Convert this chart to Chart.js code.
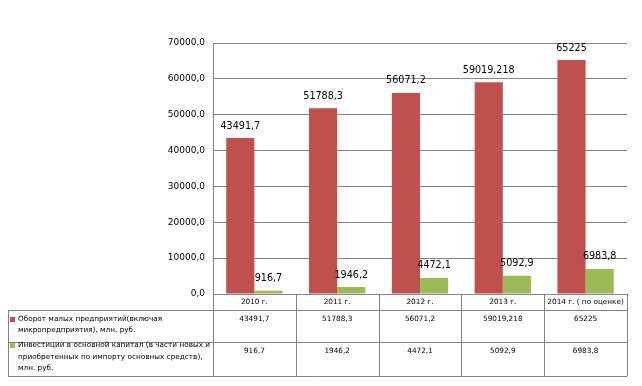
<!DOCTYPE html>
<html><head><meta charset="utf-8">
<script src="https://cdn.jsdelivr.net/npm/chart.js@4/dist/chart.umd.min.js"></script>
<style>html,body{margin:0;padding:0;background:#fff;}canvas{display:block;}</style>
</head><body>
<canvas id="c" width="642" height="386"></canvas>
<script>
const categories = ["2010 г.", "2011 г.", "2012 г.", "2013 г.", "2014 г. ( по оценке)"];
const turnover = [43491.7, 51788.3, 56071.2, 59019.218, 65225];
const investment = [916.7, 1946.2, 4472.1, 5092.9, 6983.8];
const turnoverName = ["Оборот малых предприятий(включая", "микропредприятия), млн. руб."];
const investmentName = ["Инвестиции в основной капитал (в части новых и", "приобретенных по импорту основных средств),", "млн. руб."];
const yMin = 0, yMax = 70000, yStep = 10000;

const RED = '#C0504D', GREEN = '#9BBB59', GRID = '#868686', LINE = '#808080';
const fmt = v => String(v).replace('.', ',');

const labelPlugin = {
  id: 'labels',
  afterDatasetsDraw(chart) {
    const ctx = chart.ctx;
    ctx.save();
    ctx.font = '9.6px "DejaVu Sans"';
    ctx.fillStyle = '#000';
    ctx.textAlign = 'center';
    ctx.textBaseline = 'middle';
    chart.data.datasets.forEach((ds, di) => {
      chart.getDatasetMeta(di).data.forEach((el, i) => {
        ctx.fillText(fmt(ds.data[i]), el.x, el.y - 12);
      });
    });
    ctx.restore();
  }
};

const tablePlugin = {
  id: 'table',
  afterDraw(chart) {
    const ctx = chart.ctx, a = chart.chartArea;
    const n = categories.length, cw = (a.right - a.left) / n;
    const y0 = a.bottom, y1 = y0 + 16, y2 = y1 + 32, y3 = y2 + 34;
    const xl = 8;
    ctx.save();
    ctx.strokeStyle = LINE; ctx.lineWidth = 1;
    ctx.beginPath();
    for (let i = 0; i <= n; i++) {
      const x = Math.round(a.left + i * cw) + 0.5;
      ctx.moveTo(x, y0); ctx.lineTo(x, y3);
    }
    [y1, y2, y3].forEach(y => { ctx.moveTo(xl, Math.round(y) + 0.5); ctx.lineTo(a.right, Math.round(y) + 0.5); });
    ctx.moveTo(xl + 0.5, y1); ctx.lineTo(xl + 0.5, y3);
    ctx.stroke();

    ctx.font = '7.3px "DejaVu Sans"';
    ctx.fillStyle = '#000';
    ctx.textBaseline = 'middle';
    ctx.textAlign = 'center';
    const xs = chart.scales.x;
    categories.forEach((c, i) => {
      const cx = xs.getPixelForValue(i);
      ctx.fillText(c, cx, y0 + 8.5);
      ctx.fillText(fmt(turnover[i]), cx, y1 + 9);
      ctx.fillText(fmt(investment[i]), cx, y2 + 9);
    });
    ctx.textAlign = 'left';
    turnoverName.forEach((t, k) => ctx.fillText(t, 18, y1 + 9 + k * 11.5));
    investmentName.forEach((t, k) => ctx.fillText(t, 18, y2 + 3 + k * 11.7));
    ctx.fillStyle = RED; ctx.fillRect(10, y1 + 7, 5, 5);
    ctx.fillStyle = GREEN; ctx.fillRect(10, y2 + 1, 5, 5);
    ctx.restore();
  }
};

new Chart(document.getElementById('c'), {
  type: 'bar',
  data: {
    labels: categories,
    datasets: [
      { label: turnoverName.join(' '), data: turnover, backgroundColor: RED, borderWidth: 0 },
      { label: investmentName.join(' '), data: investment, backgroundColor: GREEN, borderWidth: 0 }
    ]
  },
  options: {
    responsive: false, animation: false, devicePixelRatio: 1,
    layout: { padding: { left: 0, right: 15, top: 43, bottom: 0 } },
    plugins: { legend: { display: false }, tooltip: { enabled: false } },
    datasets: { bar: { categoryPercentage: 0.68, barPercentage: 1.0 } },
    scales: {
      x: {
        grid: { display: false },
        ticks: { display: false },
        border: { color: GRID, width: 1 },
        afterFit(s) { s.height = 92; }
      },
      y: {
        min: yMin, max: yMax,
        ticks: { stepSize: yStep, padding: 8, color: '#000', font: { family: 'DejaVu Sans', size: 9 },
          callback: v => v.toFixed(1).replace('.', ',') },
        grid: { color: GRID, drawTicks: false },
        border: { color: GRID, width: 1 },
        afterFit(s) { s.width = 213; }
      }
    }
  },
  plugins: [labelPlugin, tablePlugin]
});
</script>
</body></html>
